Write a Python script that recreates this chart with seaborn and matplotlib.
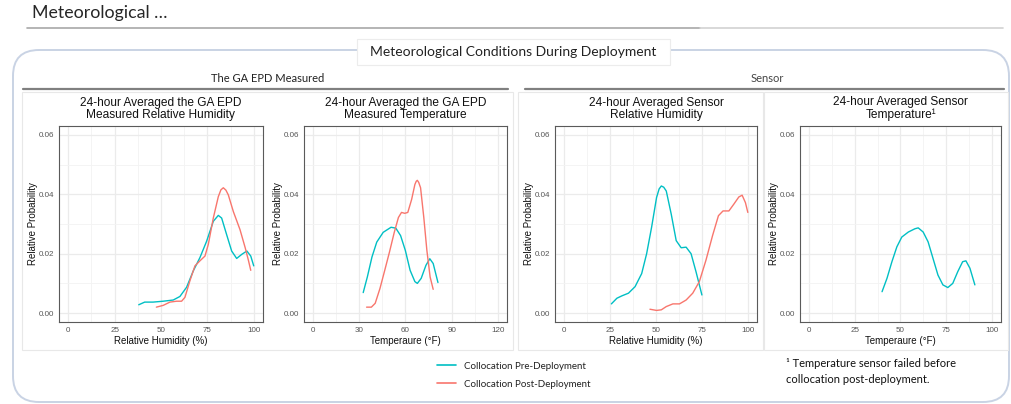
import numpy as np
import pandas as pd
import matplotlib
matplotlib.use("Agg")
import matplotlib.pyplot as plt
import seaborn as sns
from matplotlib.patches import FancyBboxPatch, Rectangle
from matplotlib.lines import Line2D
from matplotlib.transforms import IdentityTransform

# ---------------- data ----------------
series_names = ["Collocation Pre-Deployment", "Collocation Post-Deployment"]

# Panel 1: GA EPD relative humidity
p1_pre_x = [38.0, 41.2, 45.7, 51.2, 56.6, 60.2, 63.8, 67.4, 71.0, 74.6, 78.2, 80.9, 82.7, 85.4, 88.1, 90.8, 93.6, 96.3, 98.4, 100.0]
p1_pre_y = [0.0028, 0.0037, 0.0037, 0.0040, 0.0044, 0.0056, 0.0087, 0.0142, 0.0187, 0.0242, 0.0309, 0.0329, 0.0320, 0.0264, 0.0209, 0.0184, 0.0198, 0.0209, 0.0192, 0.0159]
p1_post_x = [47.5, 51.2, 54.8, 58.4, 61.1, 62.9, 65.6, 68.3, 71.0, 73.7, 75.5, 78.2, 80.9, 82.3, 83.6, 85.0, 86.3, 89.0, 92.6, 95.4, 97.2, 98.4]
p1_post_y = [0.0020, 0.0026, 0.0037, 0.0040, 0.0040, 0.0053, 0.0109, 0.0159, 0.0176, 0.0192, 0.0231, 0.0320, 0.0392, 0.0415, 0.0422, 0.0414, 0.0398, 0.0342, 0.0281, 0.0220, 0.0176, 0.0144]

# Panel 2: GA EPD temperature
p2_pre_x = [32.5, 35.2, 38.2, 41.3, 45.5, 50.6, 53.7, 56.8, 59.9, 63.0, 66.1, 67.7, 70.2, 73.3, 75.8, 78.0, 81.1]
p2_pre_y = [0.0069, 0.0122, 0.0189, 0.0239, 0.0272, 0.0289, 0.0286, 0.0261, 0.0211, 0.0144, 0.0106, 0.0100, 0.0117, 0.0161, 0.0183, 0.0167, 0.0103]
p2_post_x = [34.7, 37.8, 40.3, 43.4, 46.5, 49.6, 52.7, 55.4, 57.4, 59.5, 61.5, 64.0, 66.1, 67.0, 67.7, 68.6, 69.8, 71.9, 73.9, 76.0, 78.0]
p2_post_y = [0.0020, 0.0020, 0.0033, 0.0083, 0.0144, 0.0206, 0.0272, 0.0322, 0.0339, 0.0336, 0.0339, 0.0383, 0.0433, 0.0444, 0.0447, 0.0440, 0.0422, 0.0322, 0.0211, 0.0122, 0.0080]

# Panel 3: sensor relative humidity
p3_pre_x = [25.7, 28.7, 31.4, 35.0, 38.6, 42.2, 44.9, 47.6, 50.3, 51.7, 52.9, 54.2, 55.6, 58.3, 61.0, 63.7, 66.4, 69.1, 71.8, 75.0]
p3_pre_y = [0.0031, 0.0050, 0.0058, 0.0067, 0.0089, 0.0133, 0.0200, 0.0289, 0.0389, 0.0418, 0.0428, 0.0424, 0.0411, 0.0333, 0.0244, 0.0220, 0.0222, 0.0200, 0.0139, 0.0061]
p3_post_x = [46.7, 50.3, 52.9, 55.6, 59.2, 62.8, 66.4, 70.0, 73.6, 77.2, 80.8, 84.0, 86.5, 89.7, 92.4, 95.1, 96.9, 98.7, 100.0]
p3_post_y = [0.0013, 0.0009, 0.0011, 0.0022, 0.0031, 0.0031, 0.0044, 0.0067, 0.0106, 0.0178, 0.0261, 0.0328, 0.0344, 0.0344, 0.0367, 0.0391, 0.0397, 0.0372, 0.0339]

# Panel 4: sensor temperature (pre-deployment only)
p4_pre_x = [39.9, 42.6, 45.3, 48.0, 50.7, 54.3, 57.9, 59.7, 62.4, 65.1, 67.8, 70.5, 73.2, 75.9, 78.6, 81.3, 84.0, 85.8, 88.0, 90.7]
p4_pre_y = [0.0072, 0.0117, 0.0173, 0.0223, 0.0256, 0.0273, 0.0284, 0.0287, 0.0273, 0.0240, 0.0184, 0.0128, 0.0095, 0.0086, 0.0100, 0.0139, 0.0173, 0.0176, 0.0151, 0.0095]

panel_titles = [
    "24-hour Averaged the GA EPD\nMeasured Relative Humidity",
    "24-hour Averaged the GA EPD\nMeasured Temperature",
    "24-hour Averaged Sensor\nRelative Humidity",
    "24-hour Averaged Sensor\nTemperature\u00b9",
]
x_labels = ["Relative Humidity (%)", "Temperaure (\u00b0F)", "Relative Humidity (%)", "Temperaure (\u00b0F)"]
y_label = "Relative Probability"
x_ticks = [[0, 25, 50, 75, 100], [0, 30, 60, 90, 120], [0, 25, 50, 75, 100], [0, 25, 50, 75, 100]]
y_ticks = [0.00, 0.02, 0.04, 0.06]
y_tick_labels = ["0.00", "0.02", "0.04", "0.06"]
group_labels = ["The GA EPD Measured", "Sensor"]
slide_title = "Meteorological \u2026"
box_title = "Meteorological Conditions During Deployment"
footnote = "\u00b9 Temperature sensor failed before\ncollocation post-deployment."

colors = {"Collocation Pre-Deployment": "#00BFC4", "Collocation Post-Deployment": "#F8766D"}

def make_df(pre_x, pre_y, post_x=None, post_y=None):
    parts = [pd.DataFrame({"x": pre_x, "y": pre_y, "series": series_names[0]})]
    if post_x is not None:
        parts.append(pd.DataFrame({"x": post_x, "y": post_y, "series": series_names[1]}))
    return pd.concat(parts, ignore_index=True)

dfs = [
    make_df(p1_pre_x, p1_pre_y, p1_post_x, p1_post_y),
    make_df(p2_pre_x, p2_pre_y, p2_post_x, p2_post_y),
    make_df(p3_pre_x, p3_pre_y, p3_post_x, p3_post_y),
    make_df(p4_pre_x, p4_pre_y),
]

# ---------------- layout ----------------
W, H = 1012, 404
sns.set_theme(style="white")
plt.rcParams["font.family"] = ["Liberation Sans", "DejaVu Sans"]

fig = plt.figure(figsize=(W / 100, H / 100), dpi=100)
fig.patch.set_facecolor("white")

def rect(x0, y0, x1, y1):
    return [x0 / W, 1 - y1 / H, (x1 - x0) / W, (y1 - y0) / H]

def fx(x):
    return x / W

def fy(y):
    return 1 - y / H

slide_font = ["Lato", "DejaVu Sans"]
ident = IdentityTransform()

# slide title and underline
fig.text(fx(32), fy(13), slide_title, fontsize=12.8, family=slide_font, color="#262626",
         ha="left", va="center")
fig.add_artist(Line2D([fx(27), fx(700)], [fy(28), fy(28)], color="#a8a8a8", lw=1.2))
fig.add_artist(Line2D([fx(700), fx(1003)], [fy(28), fy(28)], color="#d2d2d2", lw=1.2))

# rounded outer box (pixel coordinates, origin bottom-left)
outer = FancyBboxPatch((13, H - 402), 1009 - 13, 402 - 50,
                       boxstyle="round,pad=0,rounding_size=26",
                       transform=ident, fill=False, edgecolor="#c9d3e4", lw=1.4)
fig.add_artist(outer)

# boxed header
hdr = Rectangle((357, H - 65), 670 - 357, 65 - 39, transform=ident,
                facecolor="white", edgecolor="#ececec", lw=0.8)
fig.add_artist(hdr)
fig.text(fx(513.5), fy(52), box_title, fontsize=10, family=slide_font, color="#222222",
         ha="center", va="center")

# group labels and rules
fig.text(fx(268), fy(78), group_labels[0], fontsize=8, family=slide_font, color="#222222",
         ha="center", va="center")
fig.text(fx(767), fy(78), group_labels[1], fontsize=8, family=slide_font, color="#444444",
         ha="center", va="center")
fig.add_artist(Line2D([fx(23), fx(508)], [fy(88.5), fy(88.5)], color="#808080", lw=1.6))
fig.add_artist(Line2D([fx(525), fx(1004)], [fy(88.5), fy(88.5)], color="#808080", lw=1.6))

# faint panel frames
for (a, b, c, d) in [(22, 92, 513, 350), (518, 92, 763, 350), (764, 92, 1008, 350)]:
    fig.add_artist(Rectangle((a, H - d), c - a, d - b, transform=ident, fill=False,
                             edgecolor="#e8e8e8", lw=0.8))

axes_px = [(59, 126, 263, 322), (304, 126, 507, 322), (555, 126, 757, 322), (800, 126, 1001, 322)]
x_limits = [(-5, 105), (-6, 126), (-5, 105), (-5, 105)]

for i, (px, df) in enumerate(zip(axes_px, dfs)):
    ax = fig.add_axes(rect(*px))
    ax.set_facecolor("white")
    hue_order = [s for s in series_names if s in df["series"].unique()]
    sns.lineplot(data=df, x="x", y="y", hue="series", hue_order=hue_order,
                 palette=colors, ax=ax, legend=False, sort=False, estimator=None, lw=1.0)
    ax.set_xlim(*x_limits[i])
    ax.set_ylim(-0.003, 0.063)
    xt = x_ticks[i]
    ax.set_xticks(xt)
    ax.set_xticklabels([str(t) for t in xt])
    ax.set_xticks([(xt[k] + xt[k + 1]) / 2 for k in range(len(xt) - 1)], minor=True)
    ax.set_yticks(y_ticks)
    ax.set_yticklabels(y_tick_labels)
    ax.set_yticks([0.01, 0.03, 0.05], minor=True)
    ax.grid(True, which="major", color="#ebebeb", lw=0.9)
    ax.grid(True, which="minor", color="#f3f3f3", lw=0.6)
    ax.set_axisbelow(True)
    for sp in ax.spines.values():
        sp.set_color("#5a5a5a")
        sp.set_linewidth(0.8)
    ax.tick_params(which="major", length=2.2, width=0.5, color="#444444",
                   labelsize=5.8, labelcolor="#555555", pad=1.5)
    ax.tick_params(which="minor", length=0)
    ax.set_xlabel(x_labels[i], fontsize=7, color="#111111", labelpad=1.5)
    ax.set_ylabel(y_label, fontsize=7, color="#111111", labelpad=0.5)
    ax.set_title(panel_titles[i], fontsize=8.6, color="#111111", pad=6, linespacing=1.0)

# legend
handles = [Line2D([], [], color=colors[s], lw=1.2) for s in series_names]
leg = fig.legend(handles, series_names, loc="upper left",
                 bbox_to_anchor=(fx(430), fy(355)), frameon=False,
                 prop={"family": slide_font, "size": 7}, handlelength=2.0,
                 handletextpad=0.8, labelspacing=0.9, borderpad=0.2)
for t in leg.get_texts():
    t.set_color("#222222")

fig.text(fx(786), fy(371.5), footnote, fontsize=8, family=slide_font, color="#111111",
         ha="left", va="center", linespacing=1.45)

fig.savefig("out.png", dpi=100, facecolor="white")
